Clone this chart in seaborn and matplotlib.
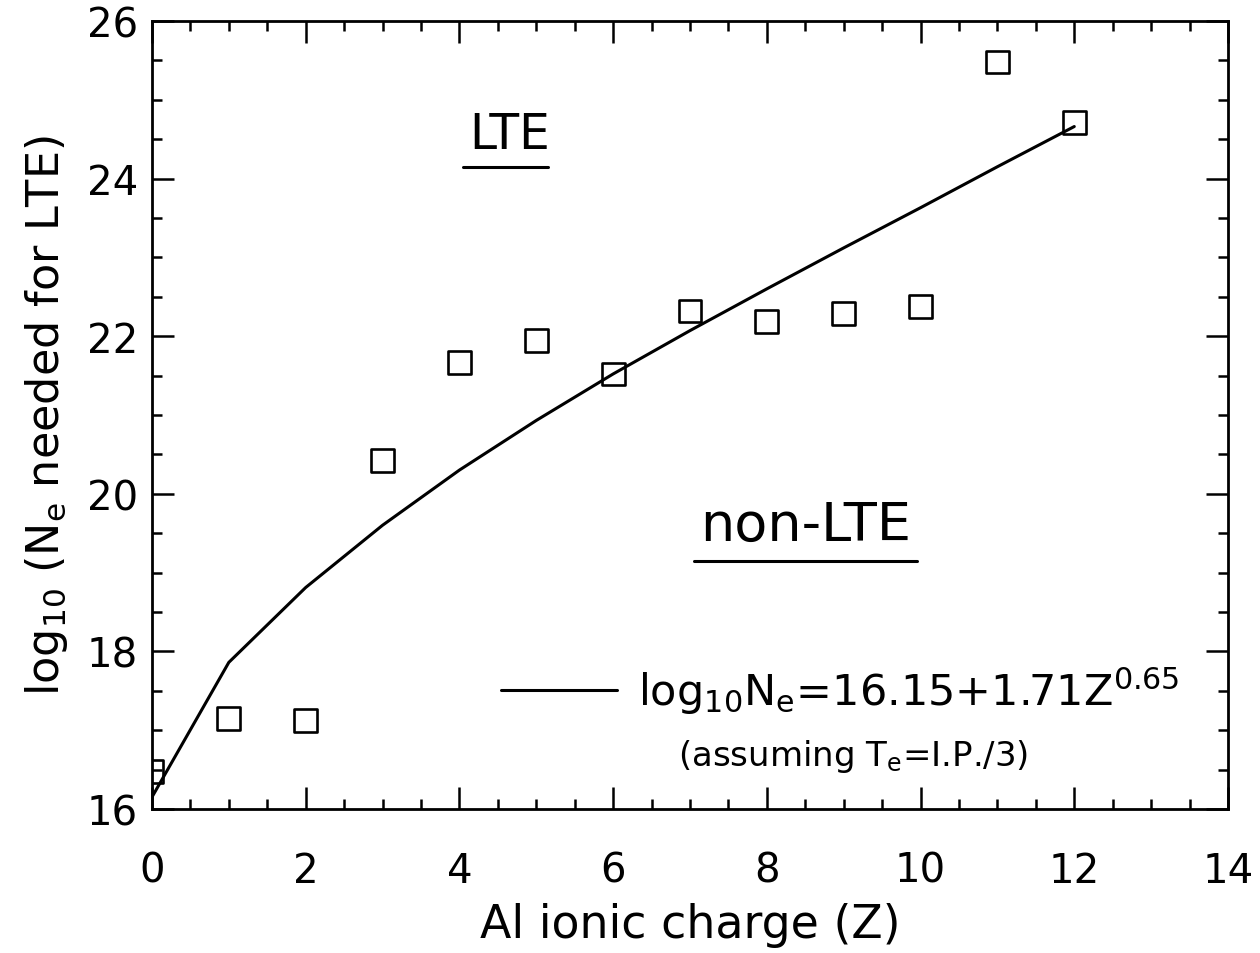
import matplotlib
matplotlib.use('Agg')
import matplotlib.pyplot as plt
import seaborn as sns
import pandas as pd
from matplotlib.ticker import MultipleLocator

# data
charge = [0, 1, 2, 3, 4, 5, 6, 7, 8, 9, 10, 11, 12]
log_ne_needed = [16.47, 17.15, 17.12, 20.42, 21.67, 21.94, 21.52, 22.32, 22.19, 22.29, 22.38, 25.48, 24.71]
fit_log_ne = [16.15, 17.86, 18.81, 19.60, 20.30, 20.93, 21.52, 22.07, 22.60, 23.12, 23.63, 24.15, 24.66]

df = pd.DataFrame({'Z': charge, 'points': log_ne_needed, 'fit': fit_log_ne})

sns.set_style('ticks')
plt.rcParams['font.family'] = ['DejaVu Sans']
plt.rcParams['mathtext.default'] = 'regular'
plt.rcParams['text.color'] = 'black'
plt.rcParams['axes.labelcolor'] = 'black'

fig = plt.figure(figsize=(12.6, 9.54), dpi=100)
ax = fig.add_axes([0.1206, 0.151, 0.854, 0.826])

fit_label = r'log$_{10}$N$_e$=16.15+1.71Z$^{0.65}$'
sns.lineplot(data=df, x='Z', y='fit', color='black', linewidth=2.2, ax=ax, label=fit_label)
sns.scatterplot(data=df, x='Z', y='points', marker='s', s=270, facecolor='none',
                edgecolor='black', linewidth=1.9, ax=ax, zorder=3)

ax.set_xlim(0, 14)
ax.set_ylim(16, 26)
ax.xaxis.set_major_locator(MultipleLocator(2))
ax.xaxis.set_minor_locator(MultipleLocator(0.5))
ax.yaxis.set_major_locator(MultipleLocator(2))
ax.yaxis.set_minor_locator(MultipleLocator(0.5))
ax.tick_params(which='both', direction='in', top=True, right=True, width=1.8, colors='black')
ax.tick_params(which='major', length=16, labelsize=29)
ax.tick_params(axis='x', which='major', pad=30)
ax.tick_params(axis='y', which='major', pad=10)
ax.tick_params(which='minor', length=7)
for sp in ax.spines.values():
    sp.set_linewidth(2)
    sp.set_color('black')

ax.set_xlabel('Al ionic charge (Z)', fontsize=33, labelpad=8)
ax.set_ylabel(r'log$_{10}$ (N$_e$ needed for LTE)', fontsize=32, labelpad=12)

# region labels
ax.text(4.65, 24.57, 'LTE', fontsize=35, ha='center', va='center')
ax.plot([4.05, 5.15], [24.15, 24.15], color='black', linewidth=2.2)
ax.text(8.5, 19.6, 'non-LTE', fontsize=39, ha='center', va='center')
ax.plot([7.05, 9.95], [19.15, 19.15], color='black', linewidth=2.2)

leg = ax.legend(loc='center left', bbox_to_anchor=(0.288, 0.15), frameon=False,
                fontsize=31, handlelength=2.7, handletextpad=0.5)
ax.text(9.12, 16.68, r'(assuming T$_e$=I.P./3)', fontsize=24.5, ha='center', va='center')

fig.savefig('out.png', dpi=100)
